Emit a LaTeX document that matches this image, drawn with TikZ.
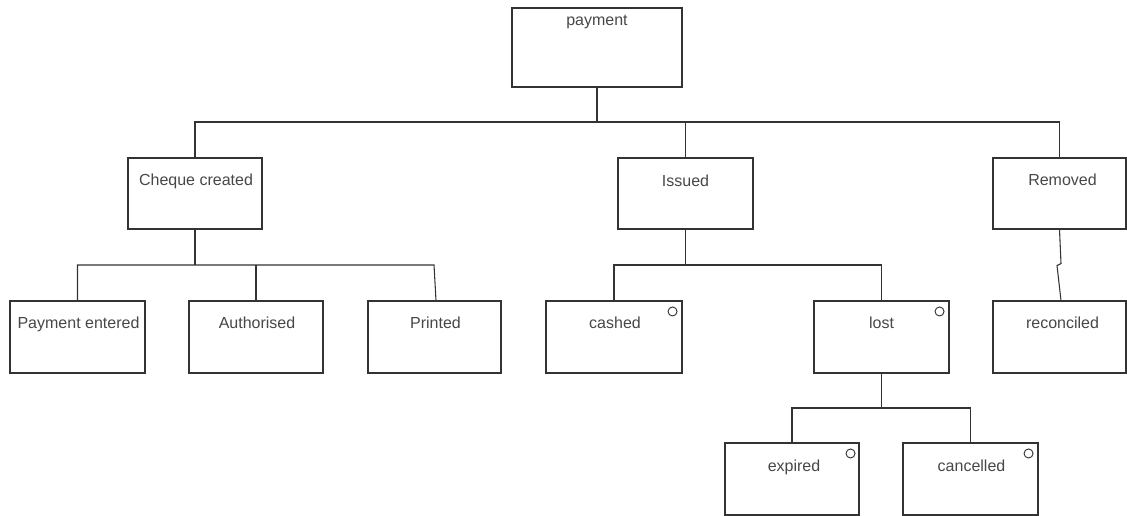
\documentclass[tikz,border=0pt]{standalone}
\usepackage{fontspec}
\setmainfont{Liberation Sans}
\usetikzlibrary{calc}
\begin{document}
\begin{tikzpicture}[x=0.75pt,y=-0.75pt,
  stbox/.style={draw=black!80, line width=0.8pt, minimum width=#1*0.75pt, minimum height=72*0.75pt, inner sep=0pt},
  stbox/.default=135,
  lbl/.style={text=black!72, font=\fontsize{12}{14}\selectfont, inner sep=0pt, anchor=base},
  conn/.style={draw=black!80, line width=0.8pt},
  endmark/.style={circle, draw=black!80, line width=0.7pt, minimum size=9*0.75pt, inner sep=0pt}]
\useasboundingbox (0,0) rectangle (1127,515);

% root state
\node[stbox, minimum width=170*0.75pt, minimum height=79*0.75pt] (payment) at (597,47.5) {};
\node[lbl] (paymentt) at ($(payment.north)+(0,18)$) {payment};

% second level
\node[stbox=134, minimum height=71*0.75pt] (cheque) at (195,193.5) {};
\node[stbox, minimum height=71*0.75pt] (issued) at (685.5,193.5) {};
\node[stbox=133, minimum height=71*0.75pt] (removed) at (1059.5,193.5) {};
\node[lbl] (chequet) at ($(cheque.north)+(1,28.5)$) {Cheque created};
\node[lbl] (issuedt) at ($(issued.north)+(0,29)$) {Issued};
\node[lbl] (removedt) at ($(removed.north)+(3,28.5)$) {Removed};

% third level
\node[stbox] (entered) at (77.5,337) {};
\node[stbox=134] (authorised) at (256,337) {};
\node[stbox=133] (printed) at (434.5,337) {};
\node[stbox=136] (cashed) at (614,337) {};
\node[stbox] (lost) at (881.5,337) {};
\node[stbox=133] (reconciled) at (1059.5,337) {};
\node[lbl] (enteredt) at ($(entered.north)+(1,28)$) {Payment entered};
\node[lbl] (authorisedt) at ($(authorised.north)+(1,28)$) {Authorised};
\node[lbl] (printedt) at ($(printed.north)+(1,28)$) {Printed};
\node[lbl] (cashedt) at ($(cashed.north)+(1,28.5)$) {cashed};
\node[lbl] (lostt) at ($(lost.north)+(0,28.5)$) {lost};
\node[lbl] (reconciledt) at ($(reconciled.north)+(3,28.5)$) {reconciled};

% fourth level
\node[stbox=134] (expired) at (792,479) {};
\node[stbox] (cancelled) at (970.5,479) {};
\node[lbl] (expiredt) at ($(expired.north)+(2,29)$) {expired};
\node[lbl] (cancelledt) at ($(cancelled.north)+(1,29)$) {cancelled};

% final-state markers
\node[endmark] (cashedc) at ($(cashed.north east)+(-10,11)$) {};
\node[endmark] (lostc) at ($(lost.north east)+(-10,11)$) {};
\node[endmark] (expiredc) at ($(expired.north east)+(-9,11)$) {};
\node[endmark] (cancelledc) at ($(cancelled.north east)+(-10,11)$) {};

% connector levels
\coordinate (busA) at (0,122);
\coordinate (busB) at (0,265);
\coordinate (busC) at (0,408);

% payment -> children
\draw[conn] (payment.south) -- (payment.south |- busA);
\draw[conn] (cheque.north) -- (cheque.north |- busA) -- (removed.north |- busA) -- (removed.north);
\draw[conn] (issued.north) -- (issued.north |- busA);

% cheque created -> children
\draw[conn] (cheque.south) -- (cheque.south |- busB);
\draw[conn] (entered.north) -- (entered.north |- busB) -- ($(printed.north |- busB)+(-0.5,0)$) -- ($(printed.north)+(1.5,0)$);
\draw[conn] (authorised.north) -- (authorised.north |- busB);

% issued -> children
\draw[conn] (issued.south) -- (issued.south |- busB);
\draw[conn] (cashed.north) -- (cashed.north |- busB) -- (lost.north |- busB) -- (lost.north);

% removed -> reconciled
\coordinate (kinkA) at ($(removed.south)+(1.5,34)$);
\coordinate (kinkB) at ($(removed.south)+(-2.5,36)$);
\draw[conn] (removed.south) -- (kinkA) -- (kinkB) -- ($(reconciled.north)+(1.5,0)$);

% lost -> children
\draw[conn] (lost.south) -- (lost.south |- busC);
\draw[conn] (expired.north) -- (expired.north |- busC) -- (cancelled.north |- busC) -- (cancelled.north);
\end{tikzpicture}
\end{document}
